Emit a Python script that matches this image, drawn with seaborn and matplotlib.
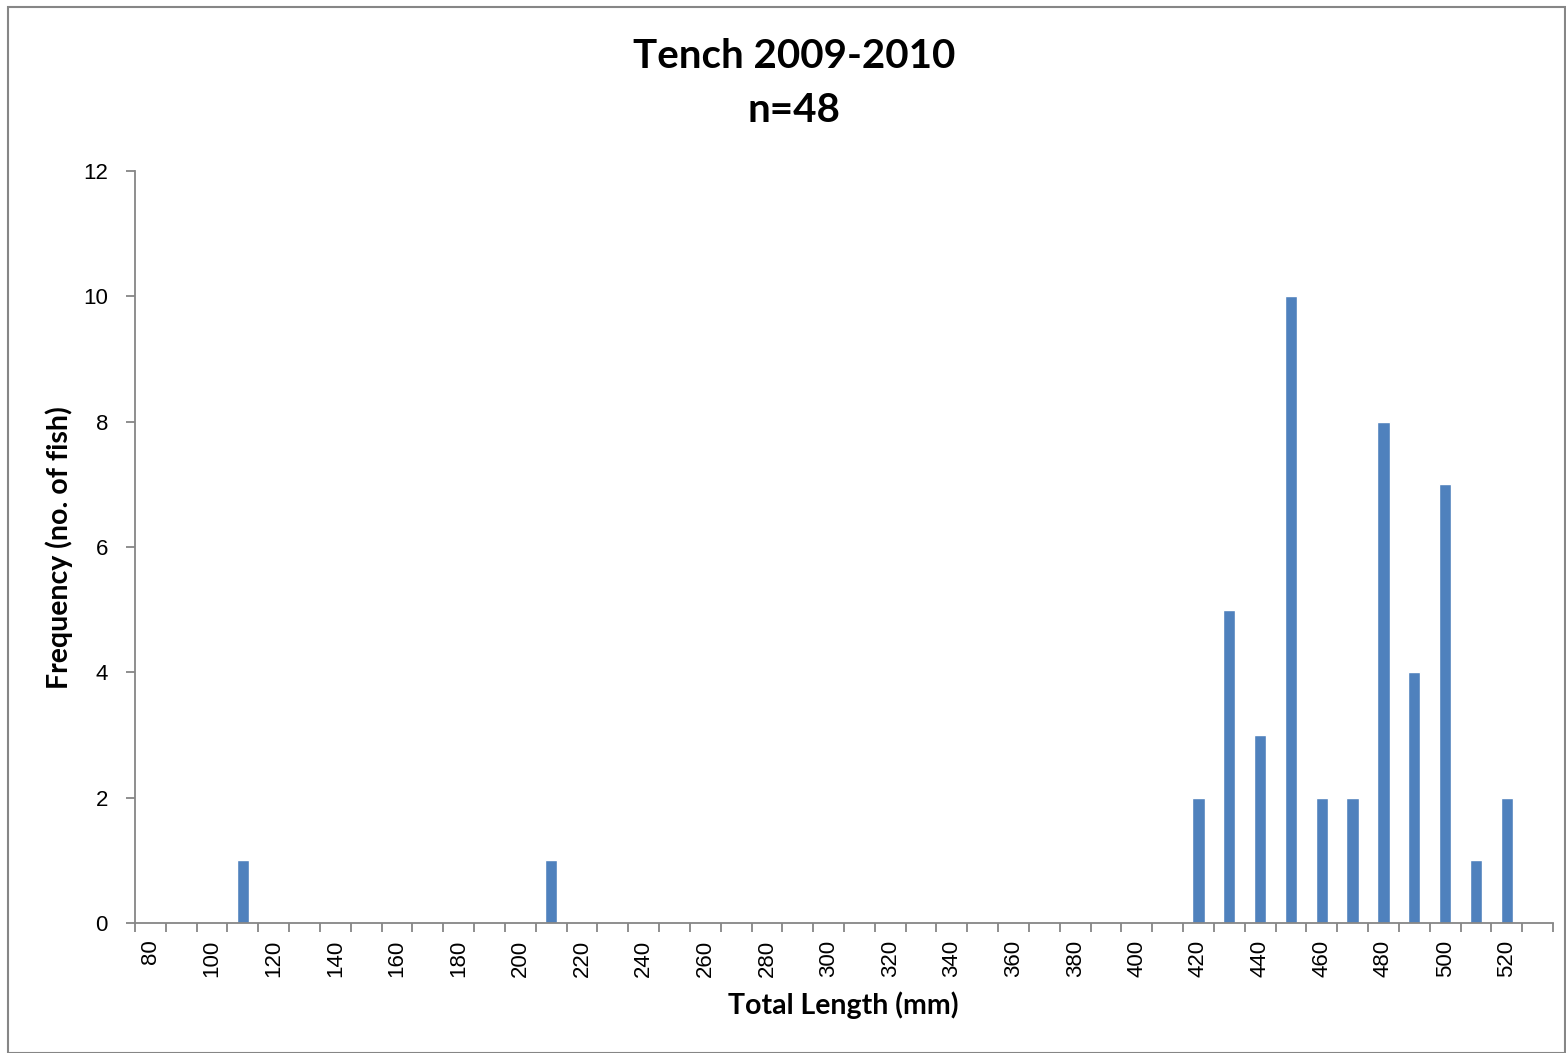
import numpy as np
import pandas as pd
import matplotlib
matplotlib.use("Agg")
import matplotlib.pyplot as plt
import seaborn as sns
from matplotlib.patches import Rectangle

# Data
lengths = list(range(80, 540, 10))  # 80..530 mm categories
counts = [0, 0, 0, 1, 0, 0, 0, 0, 0, 0,   # 80-170
          0, 0, 0, 1, 0, 0, 0, 0, 0, 0,   # 180-270
          0, 0, 0, 0, 0, 0, 0, 0, 0, 0,   # 280-370
          0, 0, 0, 0, 2, 5, 3, 10, 2, 2,  # 380-470
          8, 4, 7, 1, 2, 0]               # 480-530
title_lines = ["Tench 2009-2010", "n=48"]
x_label = "Total Length (mm)"
y_label = "Frequency (no. of fish)"
y_ticks = [0, 2, 4, 6, 8, 10, 12]

sns.set_theme(style="white")
plt.rcParams['font.family'] = ['Liberation Sans', 'DejaVu Sans']
plt.rcParams['text.color'] = 'black'
plt.rcParams['axes.labelcolor'] = 'black'
plt.rcParams['xtick.color'] = 'black'
plt.rcParams['ytick.color'] = 'black'

df = pd.DataFrame({"length": [str(v) for v in lengths], "count": counts})

fig = plt.figure(figsize=(15.66, 10.53), dpi=100)
ax = fig.add_axes([135/1566, 1 - 923/1053, (1553-135)/1566, (923-171)/1053])

sns.barplot(data=df, x="length", y="count", color="#4F81BD", saturation=1,
            width=0.4, ax=ax, order=df["length"].tolist())

n = len(lengths)
ax.set_xlim(-0.5, n - 0.5)
ax.set_ylim(0, 12)
ax.set_yticks(y_ticks)
ax.set_yticklabels([str(v) for v in y_ticks], fontsize=16)

# category labels every other category, tick marks at boundaries
ax.set_xticks(range(0, n, 2))
ax.set_xticklabels([str(lengths[i]) for i in range(0, n, 2)], rotation=90, fontsize=16)
ax.tick_params(axis='x', which='major', length=0, pad=12)
ax.set_xticks(np.arange(-0.5, n, 1), minor=True)
ax.tick_params(axis='x', which='minor', length=6.5, width=1.3, color='#868686', direction='out', bottom=True)
ax.tick_params(axis='y', which='major', length=6.5, width=1.3, color='#868686', direction='out', left=True, pad=13)

for s in ["top", "right"]:
    ax.spines[s].set_visible(False)
for s in ["left", "bottom"]:
    ax.spines[s].set_color('#868686')
    ax.spines[s].set_linewidth(1.3)

ax.set_xlabel(x_label, fontsize=20.5, fontweight='bold', family=['Lato', 'DejaVu Sans'])
ax.set_ylabel(y_label, fontsize=20.5, fontweight='bold', family=['Lato', 'DejaVu Sans'])
ax.xaxis.set_label_coords((843 - 135) / 1418, (923 - 991) / 752)
ax.yaxis.set_label_coords((73 - 135) / 1418, (923 - 548) / 752)
ax.grid(False)

fig.text(794/1566, 1 - 56/1053, title_lines[0], ha='center', va='center', fontsize=29,
         fontweight='bold', family=['Lato', 'DejaVu Sans'])
fig.text(794/1566, 1 - 111/1053, title_lines[1], ha='center', va='center', fontsize=29,
         fontweight='bold', family=['Lato', 'DejaVu Sans'])

fig.patches.append(Rectangle((8/1566, 0), 1 - 8/1566 - 1/1566, 1 - 7/1053, transform=fig.transFigure,
                             fill=False, edgecolor='#868686', linewidth=1.5))

fig.savefig("out.png", dpi=100)
